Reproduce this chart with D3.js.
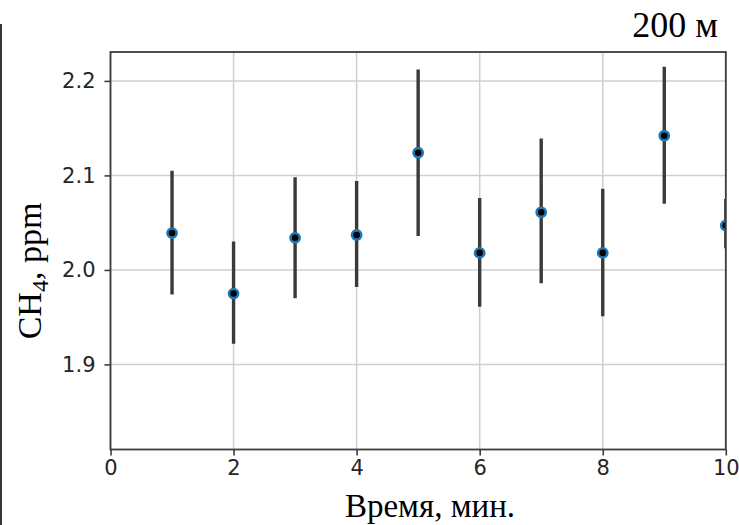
<!DOCTYPE html>
<html>
<head>
<meta charset="utf-8">
<script src="https://cdn.jsdelivr.net/npm/d3@7"></script>
<style>
  html, body { margin: 0; padding: 0; background: #fff; }
  svg { display: block; }
</style>
</head>
<body>
<svg id="chart" width="739" height="525"></svg>
<script>
// CH4 concentration, one measurement per minute, with error bars
const minutes = [1, 2, 3, 4, 5, 6, 7, 8, 9, 10];
const ch4 = [2.039, 1.975, 2.034, 2.037, 2.124, 2.018, 2.061, 2.018, 2.142, 2.047];
const errLow = [0.065, 0.053, 0.064, 0.055, 0.088, 0.057, 0.075, 0.067, 0.072, 0.024];
const errHigh = [0.066, 0.055, 0.064, 0.057, 0.088, 0.058, 0.078, 0.068, 0.073, 0.028];
const xTicks = [0, 2, 4, 6, 8, 10];
const yTicks = [1.9, 2.0, 2.1, 2.2];
const title = "200 м";
const xLabel = "Время, мин.";

const svg = d3.select("#chart");
const plot = { left: 110.5, right: 725.8, top: 52, bottom: 449.5 };

const x = d3.scaleLinear().domain([0, 10]).range([plot.left, plot.right]);
const y = d3.scaleLinear().domain([1.81, 2.2306]).range([plot.bottom, plot.top]);

// edge of the neighbouring panel
svg.append("line")
  .attr("x1", 1).attr("x2", 1).attr("y1", 24).attr("y2", 525)
  .attr("stroke", "#2f3a2f").attr("stroke-width", 2);

// grid
const grid = svg.append("g");
grid.selectAll("line.gx").data(xTicks).join("line")
  .attr("x1", d => x(d)).attr("x2", d => x(d))
  .attr("y1", plot.top).attr("y2", plot.bottom)
  .attr("stroke", "#cfcfcf").attr("stroke-width", 1.5);
grid.selectAll("line.gy").data(yTicks).join("line")
  .attr("x1", plot.left).attr("x2", plot.right)
  .attr("y1", d => y(d)).attr("y2", d => y(d))
  .attr("stroke", "#cfcfcf").attr("stroke-width", 1.5);

// data, clipped to the axes area
svg.append("clipPath").attr("id", "clip")
  .append("rect")
  .attr("x", plot.left).attr("y", plot.top)
  .attr("width", plot.right - plot.left).attr("height", plot.bottom - plot.top);

const data = minutes.map((m, i) => ({ m, v: ch4[i], lo: ch4[i] - errLow[i], hi: ch4[i] + errHigh[i] }));
const marks = svg.append("g").attr("clip-path", "url(#clip)");
marks.selectAll("line.err").data(data).join("line")
  .attr("x1", d => x(d.m)).attr("x2", d => x(d.m))
  .attr("y1", d => y(d.lo)).attr("y2", d => y(d.hi))
  .attr("stroke", "#3a3a3a").attr("stroke-width", 3.4);
marks.selectAll("circle").data(data).join("circle")
  .attr("cx", d => x(d.m)).attr("cy", d => y(d.v))
  .attr("r", 4.6)
  .attr("fill", "#000")
  .attr("stroke", "#1f77b4").attr("stroke-width", 2.6);

// axes
const axisColor = "#3c3c3c";
const xAxis = svg.append("g")
  .attr("transform", `translate(0,${plot.bottom})`)
  .call(d3.axisBottom(x).tickValues(xTicks).tickFormat(d3.format("d")).tickSize(6).tickPadding(5));
const yAxis = svg.append("g")
  .attr("transform", `translate(${plot.left},0)`)
  .call(d3.axisLeft(y).tickValues(yTicks).tickFormat(d3.format(".1f")).tickSize(6).tickPadding(9));

[xAxis, yAxis].forEach(g => {
  g.select(".domain").remove();
  g.selectAll(".tick line").attr("stroke", axisColor).attr("stroke-width", 1.6);
  g.selectAll(".tick text")
    .attr("fill", "#262626")
    .style("font-family", "'DejaVu Sans', sans-serif")
    .style("font-size", "21px");
});

// frame
svg.append("rect")
  .attr("x", plot.left).attr("y", plot.top)
  .attr("width", plot.right - plot.left).attr("height", plot.bottom - plot.top)
  .attr("fill", "none").attr("stroke", axisColor).attr("stroke-width", 1.8);

// labels
const serif = "'Liberation Serif', 'Times New Roman', serif";
svg.append("text")
  .attr("x", 430).attr("y", 517)
  .attr("text-anchor", "middle")
  .style("font-family", serif).style("font-size", "33px")
  .text(xLabel);

const yl = svg.append("text")
  .attr("transform", "translate(41,271) rotate(-90)")
  .attr("text-anchor", "middle")
  .style("font-family", serif).style("font-size", "34px");
yl.append("tspan").text("CH");
yl.append("tspan").attr("dy", 7).style("font-size", "24px").text("4");
yl.append("tspan").attr("dy", -7).text(", ppm");

svg.append("text")
  .attr("x", 718).attr("y", 37)
  .attr("text-anchor", "end")
  .style("font-family", serif).style("font-size", "36px")
  .text(title);
</script>
</body>
</html>
